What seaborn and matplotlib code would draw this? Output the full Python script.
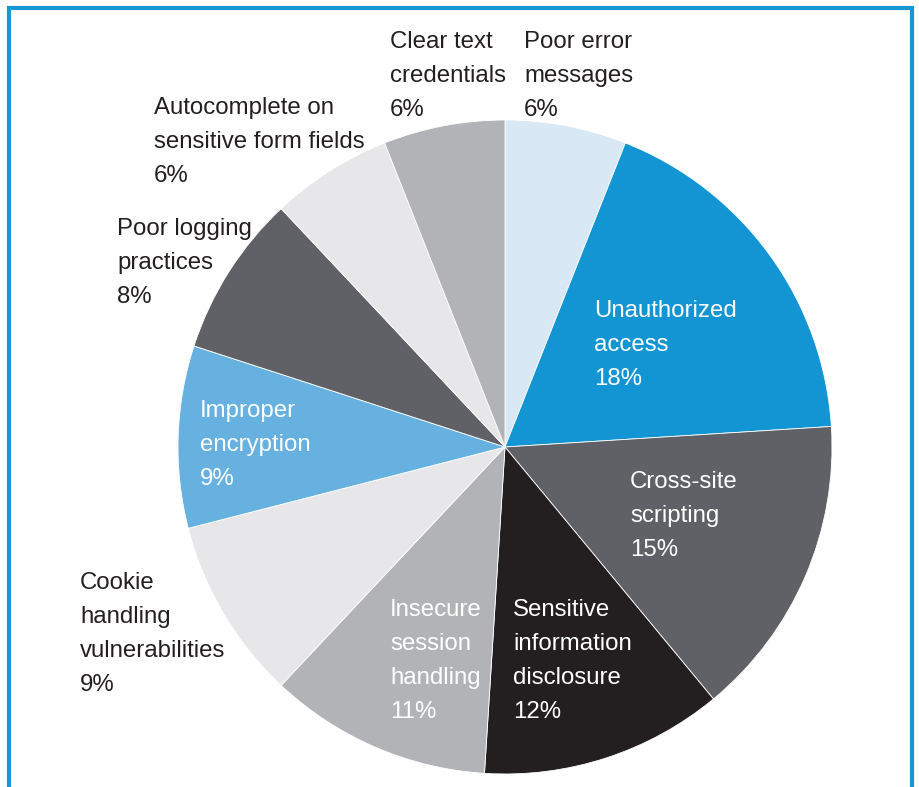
import matplotlib
matplotlib.use("Agg")
import matplotlib.pyplot as plt
import seaborn as sns

sns.set_theme(style="white")
plt.rcParams['font.family'] = ['Liberation Sans Narrow', 'Liberation Sans', 'DejaVu Sans']

# data (clockwise from top)
categories = ["Poor error\nmessages", "Unauthorized\naccess", "Cross-site\nscripting",
              "Sensitive\ninformation\ndisclosure", "Insecure\nsession\nhandling",
              "Cookie\nhandling\nvulnerabilities", "Improper\nencryption",
              "Poor logging\npractices", "Autocomplete on\nsensitive form fields",
              "Clear text\ncredentials"]
values = [6, 18, 15, 12, 11, 9, 9, 8, 6, 6]
colors = ["#d9e8f5", "#1395d3", "#5f6166", "#231f20", "#b1b3b6",
          "#e7e7e9", "#66b1e0", "#5f6166", "#e7e7e9", "#b1b3b6"]
text_colors = ["#231f20", "white", "white", "white", "white",
               "#231f20", "white", "#231f20", "#231f20", "#231f20"]
# label anchor (left x, center y of first line) in pixels
label_pos = [(524, 42), (594, 311), (630, 482), (513, 610), (390, 610),
             (80, 583), (200, 411), (117, 229), (154, 108), (390, 42)]

W, H = 920, 787
fig = plt.figure(figsize=(W / 100, H / 100), dpi=100)
ax = fig.add_axes([0, 0, 1, 1])

ax.pie(values, colors=colors, startangle=90, counterclock=False,
       center=(505, H - 447), radius=327, frame=True,
       wedgeprops=dict(edgecolor='white', linewidth=0.6))
ax.set_xlim(0, W)
ax.set_ylim(0, H)
ax.set_aspect('equal')
ax.axis('off')

# frame
ax.plot([9, 9, 912, 912], [0, H - 8, H - 8, 0], color="#1b96d4", lw=3,
        solid_joinstyle='miter', clip_on=False)

line_h = 34
for cat, v, (x, y), tc in zip(categories, values, label_pos, text_colors):
    lines = cat.split("\n") + [f"{v}%"]
    for i, ln in enumerate(lines):
        ax.text(x, H - (y + i * line_h), ln, ha='left', va='center',
                fontsize=17.3, color=tc)

fig.savefig("out.png", dpi=100)
